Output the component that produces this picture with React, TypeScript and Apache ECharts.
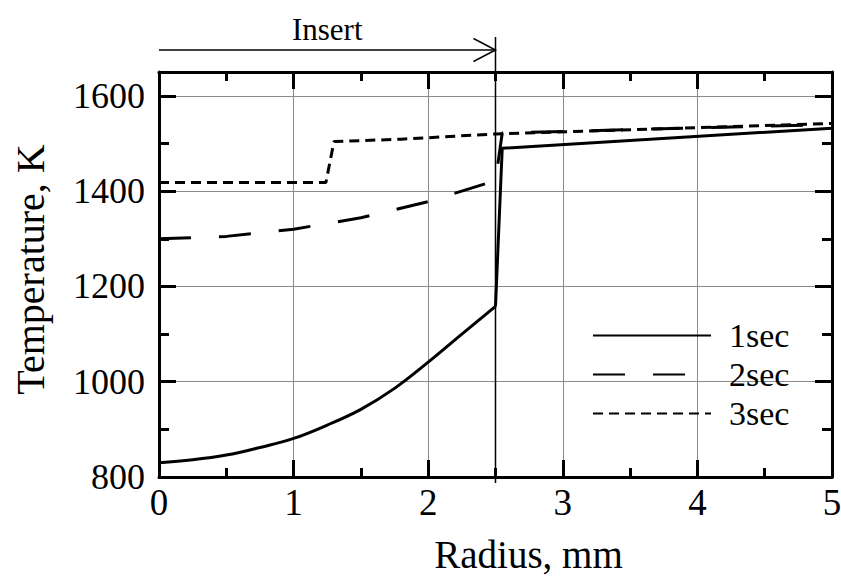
import React, { useEffect, useRef } from 'react';
import * as echarts from 'echarts';

// Radius (mm) and temperature (K)
// 1sec: smooth profile inside the insert, then the jump and the outer part
const radius1Inner = [0, 0.25, 0.5, 0.75, 1, 1.25, 1.5, 1.75, 2, 2.25, 2.5];
const temp1Inner = [830, 836, 846, 862, 881, 909, 942, 986, 1041, 1100, 1158];
const radius1Outer = [2.5, 2.55, 5];
const temp1Outer = [1158, 1490, 1532];

const radius2 = [0, 0.5, 1, 1.5, 2, 2.5, 2.55, 5];
const temp2 = [1300, 1305, 1320, 1344, 1378, 1422, 1522, 1540];

const radius3 = [0, 1.24, 1.3, 1.8, 2.5, 5];
const temp3 = [1418, 1418, 1504, 1509, 1520, 1542];

const seriesNames = ['1sec', '2sec', '3sec'];
const insertEdge = 2.5;
const insertLabel = 'Insert';
const xTitle = 'Radius, mm';
const yTitle = 'Temperature, K';

const FONT = '"Liberation Serif", "Times New Roman", serif';

export default function App() {
  const ref = useRef<HTMLDivElement>(null);
  useEffect(() => {
    const chart = echarts.init(ref.current!, null, { renderer: 'svg' });
    const pair = (xs: number[], ys: number[]) => xs.map((x, i) => [x, ys[i]]);
    const yBase = {
      type: 'value',
      min: 800,
      max: 1650,
      splitLine: { show: false },
      axisLabel: { show: false },
    };
    const majorY = (position: string, labels: boolean, split: boolean) => ({
      ...yBase,
      position,
      interval: 200,
      axisLine: { show: true, lineStyle: { color: '#000', width: 3 } },
      axisTick: { show: true, inside: true, length: 17, lineStyle: { color: '#000', width: 3 } },
      axisLabel: labels
        ? {
            show: true,
            color: '#000',
            fontSize: 36,
            fontFamily: FONT,
            margin: 14,
            showMaxLabel: false,
            formatter: (v: number) => (v % 200 === 0 && v <= 1600 ? String(v) : ''),
          }
        : { show: false },
      splitLine: split ? { show: true, lineStyle: { color: '#8a8a8a', width: 1 } } : { show: false },
    });
    const minorY = (position: string) => ({
      ...yBase,
      position,
      interval: 100,
      axisLine: { show: false },
      axisTick: { show: true, inside: true, length: 10, lineStyle: { color: '#000', width: 3 } },
    });
    const xAxisDef = (position: string, main: boolean) => ({
      type: 'value',
      position,
      min: 0,
      max: 5,
      interval: 1,
      axisLine: { show: true, onZero: false, lineStyle: { color: '#000', width: 3 } },
      axisTick: { show: true, inside: true, length: 17, lineStyle: { color: '#000', width: 3 } },
      minorTick: { show: true, splitNumber: 2, length: 9, lineStyle: { color: '#000', width: 3 } },
      axisLabel: main
        ? { show: true, color: '#000', fontSize: 37, fontFamily: FONT, margin: 7 }
        : { show: false },
      splitLine: main ? { show: true, lineStyle: { color: '#8a8a8a', width: 1 } } : { show: false },
      ...(main
        ? {
            name: xTitle,
            nameLocation: 'middle',
            nameGap: 58,
            nameTextStyle: {
              color: '#000',
              fontSize: 39,
              lineHeight: 39,
              fontFamily: FONT,
              padding: [0, 0, 0, 66],
            },
          }
        : {}),
    });

    const lineSeries = (name: string, data: number[][], type: any, smooth: number | boolean) => ({
      name,
      type: 'line',
      data,
      symbol: 'none',
      smooth,
      xAxisIndex: 0,
      yAxisIndex: 0,
      lineStyle: { color: '#000', width: 3, type },
      itemStyle: { color: '#000' },
    });

    const y0 = majorY('left', true, true) as any;
    y0.name = yTitle;
    y0.nameLocation = 'middle';
    y0.nameGap = 109;
    y0.nameTextStyle = { color: '#000', fontSize: 40, fontFamily: FONT, padding: [0, 0, 0, 10] };

    chart.setOption({
      animation: false,
      backgroundColor: '#fff',
      grid: { left: 159, right: 9, top: 72, bottom: 101, containLabel: false, outerBoundsMode: 'none' },
      xAxis: [xAxisDef('bottom', true), xAxisDef('top', false)],
      yAxis: [y0, minorY('left'), majorY('right', false, false), minorY('right')],
      legend: {
        orient: 'vertical',
        left: 592,
        top: 316,
        padding: 0,
        itemWidth: 118,
        itemHeight: 14,
        itemGap: 0,
        data: seriesNames,
        itemStyle: { color: 'rgba(0,0,0,0)', borderColor: 'rgba(0,0,0,0)', borderWidth: 0, opacity: 0 },
        textStyle: { color: '#000', fontSize: 34, fontFamily: FONT, lineHeight: 39, padding: [0, 0, 0, 13] },
      },
      series: [
        lineSeries(seriesNames[0], pair(radius1Inner, temp1Inner), 'solid', 0.4),
        lineSeries(seriesNames[0], pair(radius1Outer, temp1Outer), 'solid', false),
        lineSeries(seriesNames[1], pair(radius2, temp2), [32, 28], false),
        lineSeries(seriesNames[2], pair(radius3, temp3), [10, 6], false),
      ],
    });

    const x0 = chart.convertToPixel({ xAxisIndex: 0 }, 0) as number;
    const xi = chart.convertToPixel({ xAxisIndex: 0 }, insertEdge) as number;
    chart.setOption({
      graphic: [
        {
          type: 'line',
          z: 100,
          shape: { x1: xi, y1: 37, x2: xi, y2: 483 },
          style: { stroke: '#000', lineWidth: 1.5 },
        },
        {
          type: 'line',
          z: 100,
          shape: { x1: x0, y1: 50, x2: xi, y2: 50 },
          style: { stroke: '#000', lineWidth: 1.5 },
        },
        {
          type: 'polyline',
          z: 100,
          shape: { points: [[xi - 22, 38.5], [xi, 50], [xi - 22, 61.5]] },
          style: { stroke: '#000', lineWidth: 1.5, fill: 'none' },
        },
        {
          type: 'text',
          z: 100,
          x: (x0 + xi) / 2,
          y: 29.5,
          style: {
            text: insertLabel,
            fill: '#000',
            fontSize: 31,
            fontFamily: FONT,
            align: 'center',
            verticalAlign: 'middle',
          },
        },
      ],
    });

    return () => chart.dispose();
  }, []);
  return (
    <div
      ref={ref}
      style={{ position: 'fixed', left: 0, top: 0, width: 841, height: 578, background: '#fff' }}
    />
  );
}
